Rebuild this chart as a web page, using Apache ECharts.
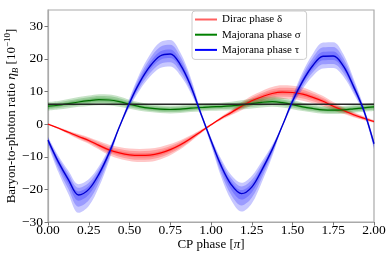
<!DOCTYPE html>
<html><head><meta charset="utf-8">
<script src="https://cdn.jsdelivr.net/npm/echarts@6/dist/echarts.min.js"></script>
<style>html,body{margin:0;padding:0;background:#fff}#c{width:390px;height:255px}</style>
</head><body><div id="c"></div>
<script>
// CP phase in units of pi
const phases = [0,0.0625,0.125,0.1875,0.25,0.3125,0.375,0.4375,0.5,0.5625,0.625,0.6875,0.75,0.8125,0.875,0.9375,1.0,
  1.0625,1.125,1.1875,1.25,1.3125,1.375,1.4375,1.5,1.5625,1.625,1.6875,1.75,1.8125,1.875,1.9375,2.0];
const yTicks = [-30,-20,-10,0,10,20,30];
const seriesNames = ['Dirac phase δ','Majorana phase σ','Majorana phase τ'];
// Dirac phase delta
const diracEta = [0,-1.2,-2.5,-3.8,-5.0,-6.5,-7.9,-8.8,-9.4,-9.6,-9.5,-8.9,-7.8,-6.3,-4.4,-2.3,-0.2,
  1.8,3.6,5.5,7.2,8.4,9.4,9.8,9.7,9.2,8.2,7.0,5.5,4.2,2.9,1.8,0.8];
const diracErr = [0,0.3,0.5,0.8,1.0,1.3,1.6,1.8,1.9,2.0,2.0,1.9,1.7,1.4,1.0,0.6,0.3,
  0.5,0.8,1.2,1.5,1.8,2.0,2.1,2.1,2.0,1.8,1.6,1.3,1.0,0.8,0.6,0.4];
// Majorana phase sigma
const sigmaEta = [5.5,5.8,6.3,6.8,7.2,7.5,7.4,6.9,6.1,5.4,4.9,4.6,4.5,4.6,4.9,5.1,5.3,
  5.4,5.6,5.9,6.3,6.7,6.9,6.6,6.0,5.3,4.8,4.4,4.3,4.4,4.7,5.0,5.3];
const sigmaErr = [1.3,1.3,1.4,1.5,1.6,1.7,1.7,1.6,1.4,1.3,1.2,1.2,1.2,1.2,1.2,1.2,1.2,
  1.2,1.3,1.4,1.5,1.6,1.6,1.5,1.4,1.3,1.2,1.2,1.2,1.2,1.2,1.2,1.3];
// Majorana phase tau
const tauEta = [-4.9,-11.5,-17.0,-21.7,-20.0,-15.3,-8.8,-0.9,6.5,12.8,17.7,20.9,21.5,18.2,11.8,3.3,-5.0,
  -12.8,-18.6,-21.3,-19.3,-14.0,-7.8,-0.5,7.0,13.2,18.0,20.8,20.9,17.8,11.5,4.2,-6.0];
const tauErrUp = [1.0,1.9,2.7,3.3,3.1,2.4,1.5,0.4,1.5,2.7,3.6,4.2,4.3,3.7,2.5,0.9,1.0,
  2.1,2.9,3.3,3.4,2.6,1.4,0.4,1.6,2.8,3.6,4.2,4.2,3.6,2.4,1.1,1.1];
const tauErrDn = [1.5,3.1,4.4,5.5,5.1,4.0,2.4,0.5,1.4,2.4,3.2,3.7,3.8,3.3,2.2,0.8,1.5,
  3.4,4.8,5.5,5.0,3.7,2.2,0.4,1.4,2.4,3.2,3.7,3.7,3.2,2.2,1.0,1.7];
// observed value
const observedEta = [6.1];

const SERIF = '"Liberation Serif","Times New Roman",serif';
const levels = [1.0, 0.66, 0.33];
const SM = 0.35;

function bands(id, center, up, dn, color) {
  const out = [];
  levels.forEach((f, k) => {
    const st = id + '_' + k;
    out.push({type:'line', stack:st, stackStrategy:'all', silent:true, symbol:'none', smooth:SM,
      data: center.map((c,i)=>c - dn[i]*f), lineStyle:{opacity:0}});
    out.push({type:'line', stack:st, stackStrategy:'all', silent:true, symbol:'none', smooth:SM,
      data: center.map((c,i)=>(up[i]+dn[i])*f), lineStyle:{opacity:0},
      areaStyle:{color:color, opacity:0.22}});
  });
  return out;
}
function centerLine(name, data, color, w) {
  return {type:'line', name:name, data:data, symbol:'none', smooth:SM, lineStyle:{color:color, width:w}, itemStyle:{color:color}};
}

const series = [].concat(
  bands('d', diracEta, diracErr, diracErr, '#ff0000'),
  [centerLine(seriesNames[0], diracEta, '#ff0000', 1.2)],
  bands('s', sigmaEta, sigmaErr, sigmaErr, '#008000'),
  [centerLine(seriesNames[1], sigmaEta, '#007000', 1.2)],
  [{type:'line', silent:true, symbol:'none', data: phases.map(()=>observedEta[0]), lineStyle:{color:'#262626', width:1.6}}],
  bands('t', tauEta, tauErrUp, tauErrDn, '#0000ff'),
  [centerLine(seriesNames[2], tauEta, '#0000d0', 1.4)]
);

const chart = echarts.init(document.getElementById('c'), null, {renderer:'canvas'});
chart.setOption({
  animation:false,
  backgroundColor:'#fff',
  grid:{left:48, right:16, top:10, bottom:33, show:true, borderColor:'#aaaaaa', borderWidth:1.2,
    containLabel:false, outerBoundsMode:'none'},
  legend:{
    left:192, top:11, orient:'vertical', padding:[2,6,3,3], itemGap:2.2,
    itemWidth:22, itemHeight:2, icon:'rect',
    backgroundColor:'rgba(255,255,255,0.85)', borderColor:'#cccccc', borderWidth:1, borderRadius:3,
    textStyle:{fontFamily:SERIF, fontSize:11, color:'#000', lineHeight:13},
    data:[
      {name:seriesNames[0], itemStyle:{color:'#ff6060'}},
      {name:seriesNames[1], itemStyle:{color:'#008000'}},
      {name:seriesNames[2], itemStyle:{color:'#0000ff'}}
    ]
  },
  xAxis:{
    type:'category', data:phases.map(String), boundaryGap:false,
    name:'CP phase [{i|π}]', nameLocation:'middle', nameGap:16, nameMoveOverlap:false,
    nameTextStyle:{fontFamily:SERIF, fontSize:13, color:'#000', rich:{i:{fontFamily:SERIF, fontSize:13, fontStyle:'italic'}}},
    axisLine:{onZero:false, lineStyle:{color:'#aaaaaa', width:1.2}},
    axisTick:{interval:3, length:3.5, lineStyle:{color:'#777'}},
    axisLabel:{interval:3, margin:1, fontFamily:SERIF, fontSize:13.5, color:'#000', formatter:v=>Number(v).toFixed(2)},
    splitLine:{show:false}
  },
  yAxis:{
    type:'value', min:-30, max:35, interval:10,
    name:'Baryon-to-photon ratio {i|η}{sub|B} [10{sup|−10}]', nameLocation:'middle', nameGap:28, nameRotate:90,
    nameMoveOverlap:false,
    nameTextStyle:{fontFamily:SERIF, fontSize:13, color:'#000', lineHeight:17,
      rich:{i:{fontFamily:SERIF, fontSize:13.5, fontStyle:'italic', lineHeight:17},
            sub:{fontFamily:SERIF, fontSize:9, fontStyle:'italic', verticalAlign:'bottom', lineHeight:17},
            sup:{fontFamily:SERIF, fontSize:9, verticalAlign:'top', lineHeight:17}}},
    axisLine:{show:true, lineStyle:{color:'#aaaaaa', width:1.2}},
    axisTick:{show:true, length:3.5, customValues:yTicks, lineStyle:{color:'#777'}},
    axisLabel:{margin:5, fontFamily:SERIF, fontSize:13.5, color:'#000', customValues:yTicks,
      formatter:v=>String(v).replace('-', '\u2212')},
    splitLine:{show:false}
  },
  series:series
});
</script>
</body></html>
